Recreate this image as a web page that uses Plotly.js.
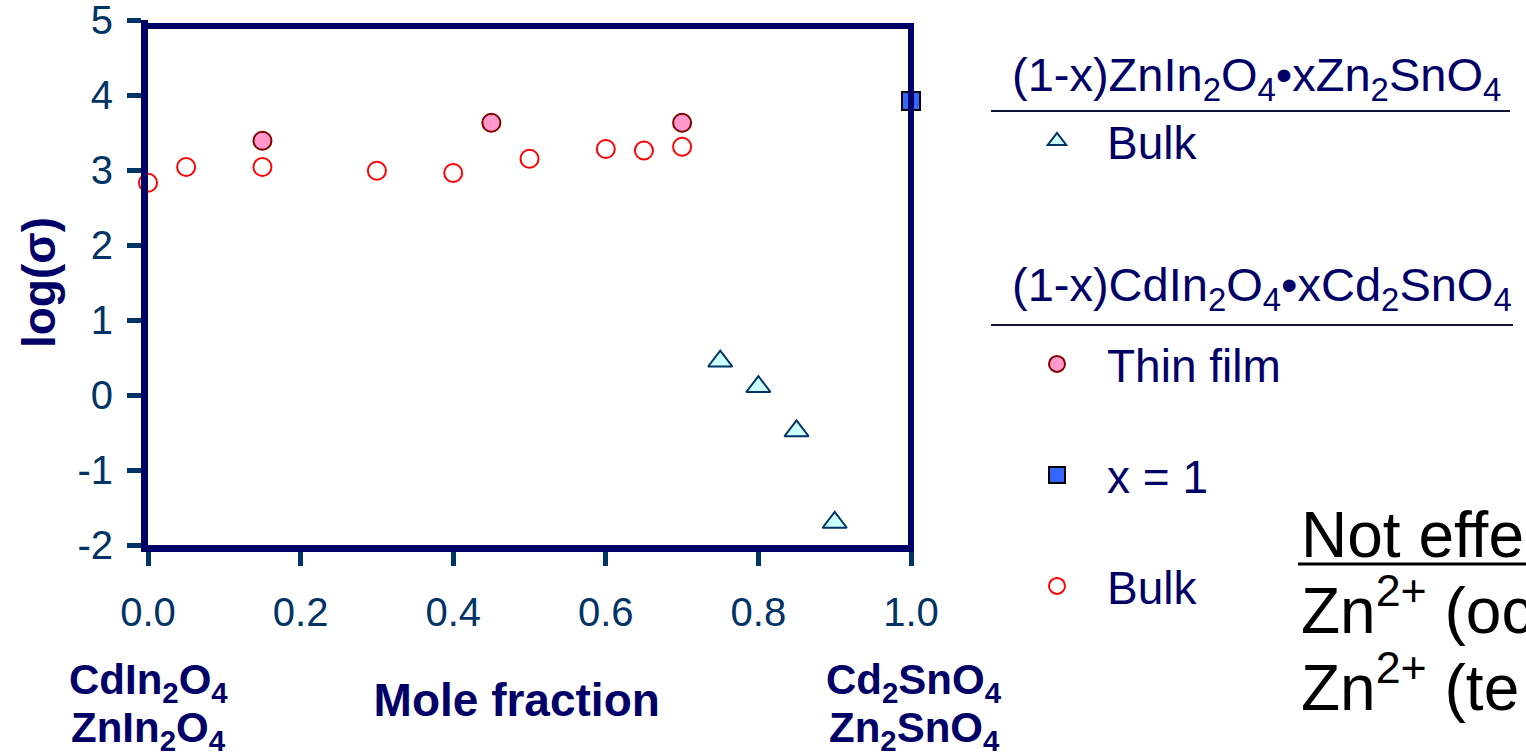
<!DOCTYPE html>
<html>
<head>
<meta charset="utf-8">
<script src="https://cdn.plot.ly/plotly-3.0.1.min.js"></script>
<style>html,body{margin:0;padding:0;background:#fff;}#chart{width:1526px;height:752px;}</style>
</head>
<body>
<div id="chart"></div>
<script>
// ---- data ----
var znBulkX = [0.75, 0.80, 0.85, 0.90];
var znBulkY = [0.45, 0.11, -0.48, -1.70];

var cdFilmX = [0.15, 0.45, 0.70];
var cdFilmY = [3.39, 3.63, 3.63];

var cdX1X = [1.0];
var cdX1Y = [3.92];

var cdBulkX = [0.00, 0.05, 0.15, 0.30, 0.40, 0.50, 0.60, 0.65, 0.70];
var cdBulkY = [2.83, 3.04, 3.04, 2.99, 2.96, 3.15, 3.28, 3.26, 3.31];

var xTickVals = [0, 0.2, 0.4, 0.6, 0.8, 1.0];
var xTickText = ['0.0', '0.2', '0.4', '0.6', '0.8', '1.0'];
var yTickVals = [-2, -1, 0, 1, 2, 3, 4, 5];
var yTickText = ['-2', '-1', '0', '1', '2', '3', '4', '5'];

var legendNames = ['Bulk', 'Thin film', 'x = 1', 'Bulk'];
var groupTitles = [
  '(1-x)ZnIn<sub>2</sub>O<sub>4</sub>\u2022xZn<sub>2</sub>SnO<sub>4</sub>',
  '(1-x)CdIn<sub>2</sub>O<sub>4</sub>\u2022xCd<sub>2</sub>SnO<sub>4</sub>'
];
var endLabelsLeft = ['CdIn<sub>2</sub>O<sub>4</sub>', 'ZnIn<sub>2</sub>O<sub>4</sub>'];
var endLabelsRight = ['Cd<sub>2</sub>SnO<sub>4</sub>', 'Zn<sub>2</sub>SnO<sub>4</sub>'];
var sideText = ['Not effe', 'Zn<sup>2+</sup> (oc', 'Zn<sup>2+</sup> (te'];

// ---- styling ----
var FONT = 'Liberation Sans, Arial, sans-serif';
var NAVY = '#000066';
var TICKC = '#003366';

var traces = [
  {x: znBulkX, y: znBulkY, type: 'scatter', mode: 'markers', name: legendNames[0],
   legend: 'legend', cliponaxis: false,
   marker: {symbol: 'triangle-up', size: 21, color: '#CCFFFF', line: {color: '#003366', width: 2}}},
  {x: cdBulkX, y: cdBulkY, type: 'scatter', mode: 'markers', name: legendNames[3],
   legend: 'legend4', cliponaxis: false,
   marker: {symbol: 'circle', size: 18, color: '#FFFFFF', line: {color: '#FF0000', width: 2}}},
  {x: cdFilmX, y: cdFilmY, type: 'scatter', mode: 'markers', name: legendNames[1],
   legend: 'legend2', cliponaxis: false,
   marker: {symbol: 'circle', size: 18, color: '#FF99CC', line: {color: '#800000', width: 2}}},
  {x: cdX1X, y: cdX1Y, type: 'scatter', mode: 'markers', name: legendNames[2],
   legend: 'legend3', cliponaxis: false,
   marker: {symbol: 'square', size: 18, color: '#3366FF', line: {color: '#000000', width: 2}}}
];

// pixel helpers for paper coordinates (plot area: x 148..911, y 20..545)
function px(p) { return (p - 148) / 763; }
function py(p) { return 1 - (p - 20) / 525; }

function legendAt(yPix) {
  return {x: px(1007), xanchor: 'left', y: py(yPix), yanchor: 'middle',
          bgcolor: 'rgba(0,0,0,0)', borderwidth: 0, itemwidth: 90,
          font: {family: FONT, size: 46, color: NAVY}};
}

var layout = {
  width: 1526, height: 752,
  margin: {l: 148, r: 615, t: 20, b: 207},
  paper_bgcolor: '#FFFFFF', plot_bgcolor: '#FFFFFF',
  font: {family: FONT, color: NAVY},
  xaxis: {
    range: [0, 1], tickvals: xTickVals, ticktext: xTickText,
    showline: true, linecolor: NAVY, linewidth: 7, mirror: false,
    ticks: 'outside', ticklen: 14, tickwidth: 5, tickcolor: TICKC,
    ticklabelstandoff: 12, ticklabeloverflow: 'allow',
    tickfont: {family: FONT, size: 40, color: TICKC},
    showgrid: false, zeroline: false,
    title: {text: '<b>Mole fraction</b>&nbsp;&nbsp;', standoff: 53, font: {family: FONT, size: 46, color: NAVY}}
  },
  yaxis: {
    range: [-2, 5], tickvals: yTickVals, ticktext: yTickText,
    showline: true, linecolor: NAVY, linewidth: 7,
    ticks: 'outside', ticklen: 14, tickwidth: 5, tickcolor: TICKC,
    ticklabelstandoff: 6, ticklabeloverflow: 'allow',
    tickfont: {family: FONT, size: 40, color: TICKC},
    showgrid: false, zeroline: false,
    title: {text: '<b>log(\u03c3)</b>', standoff: 10, font: {family: FONT, size: 46, color: NAVY}}
  },
  showlegend: true,
  legend: legendAt(141),
  legend2: legendAt(364),
  legend3: legendAt(475),
  legend4: legendAt(586),
  shapes: [
    // frame top and right
    {type: 'line', xref: 'paper', yref: 'paper', x0: px(145), x1: px(914), y0: py(26), y1: py(26), layer: 'above',
     line: {color: NAVY, width: 6}},
    {type: 'line', xref: 'paper', yref: 'paper', x0: px(911), x1: px(911), y0: py(23), y1: py(552), layer: 'above',
     line: {color: NAVY, width: 6}},
    // legend header rules
    {type: 'line', xref: 'paper', yref: 'paper', x0: px(991), x1: px(1510), y0: py(111), y1: py(111),
     line: {color: '#111133', width: 2}},
    {type: 'line', xref: 'paper', yref: 'paper', x0: px(991), x1: px(1513), y0: py(325), y1: py(325),
     line: {color: '#111133', width: 2}},
    // underline of side text
    {type: 'line', xref: 'paper', yref: 'paper', x0: px(1298), x1: px(1540), y0: py(564), y1: py(564),
     line: {color: '#000000', width: 3}}
  ],
  annotations: [
    {xref: 'paper', yref: 'paper', x: px(1010), y: py(78), xanchor: 'left', yanchor: 'middle',
     text: groupTitles[0], showarrow: false, font: {family: FONT, size: 47, color: NAVY}},
    {xref: 'paper', yref: 'paper', x: px(1010), y: py(288), xanchor: 'left', yanchor: 'middle',
     text: groupTitles[1], showarrow: false, font: {family: FONT, size: 47, color: NAVY}},

    {xref: 'paper', yref: 'paper', x: 0, y: py(682), xanchor: 'center', yanchor: 'middle',
     text: '<b>' + endLabelsLeft[0] + '</b>', showarrow: false, font: {family: FONT, size: 42, color: NAVY}},
    {xref: 'paper', yref: 'paper', x: 0, y: py(730), xanchor: 'center', yanchor: 'middle',
     text: '<b>' + endLabelsLeft[1] + '</b>', showarrow: false, font: {family: FONT, size: 42, color: NAVY}},
    {xref: 'paper', yref: 'paper', x: px(914), y: py(682), xanchor: 'center', yanchor: 'middle',
     text: '<b>' + endLabelsRight[0] + '</b>', showarrow: false, font: {family: FONT, size: 42, color: NAVY}},
    {xref: 'paper', yref: 'paper', x: px(914), y: py(730), xanchor: 'center', yanchor: 'middle',
     text: '<b>' + endLabelsRight[1] + '</b>', showarrow: false, font: {family: FONT, size: 42, color: NAVY}},

    {xref: 'paper', yref: 'paper', x: px(1299), y: py(535), xanchor: 'left', yanchor: 'middle',
     text: sideText[0], showarrow: false, font: {family: FONT, size: 64, color: '#000000'}},
    {xref: 'paper', yref: 'paper', x: px(1299), y: py(606), xanchor: 'left', yanchor: 'middle',
     text: sideText[1], showarrow: false, font: {family: FONT, size: 64, color: '#000000'}},
    {xref: 'paper', yref: 'paper', x: px(1299), y: py(683), xanchor: 'left', yanchor: 'middle',
     text: sideText[2], showarrow: false, font: {family: FONT, size: 64, color: '#000000'}}
  ]
};

Plotly.newPlot('chart', traces, layout, {displayModeBar: false, staticPlot: true});
</script>
</body>
</html>
